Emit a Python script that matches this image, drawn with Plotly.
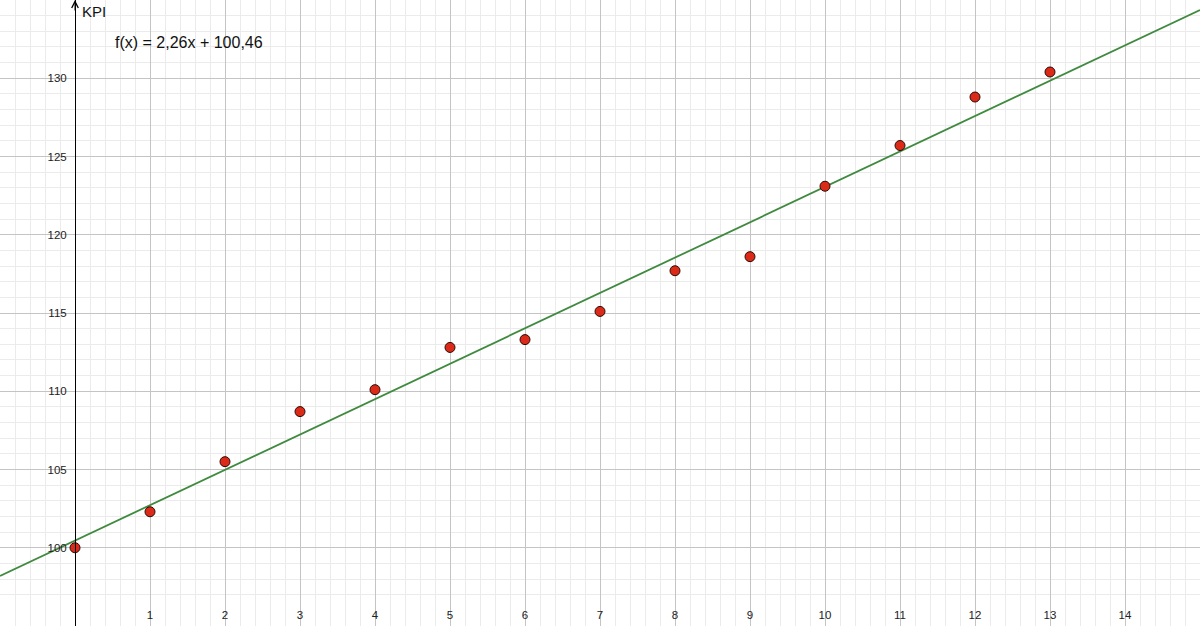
import numpy as np
import plotly.graph_objects as go

# KPI per period
periods = [0, 1, 2, 3, 4, 5, 6, 7, 8, 9, 10, 11, 12, 13]
kpi = [100.0, 102.3, 105.5, 108.7, 110.1, 112.8, 113.3, 115.1,
       117.7, 118.6, 123.1, 125.7, 128.8, 130.4]

# regression line shown in the chart
slope = 2.26
intercept = 100.46
fit_label = "f(x) = 2,26x + 100,46"

x_ticks = list(range(1, 15))
y_ticks = [100, 105, 110, 115, 120, 125, 130]

x_range = [-1, 15]
y_range = [95, 135]

font = "Liberation Sans, Arial, sans-serif"

fig = go.Figure()

# fitted line across the whole view
line_x = np.array(x_range, dtype=float)
fig.add_trace(go.Scatter(
    x=line_x, y=slope * line_x + intercept,
    mode="lines",
    line=dict(color="#3f8a3f", width=1.8),
    hoverinfo="skip",
    showlegend=False
))

# data points
fig.add_trace(go.Scatter(
    x=periods, y=kpi,
    mode="markers",
    marker=dict(size=10, color="#dc2a18", line=dict(color="#2a0a05", width=1)),
    showlegend=False
))

fig.update_layout(
    width=1200, height=626,
    margin=dict(l=0, r=0, t=0, b=0),
    paper_bgcolor="white",
    plot_bgcolor="white",
    font=dict(family=font, color="#222222"),
    xaxis=dict(
        range=x_range,
        tickvals=x_ticks,
        ticks="",
        ticklabelposition="inside",
        ticklabelstandoff=2,
        tickfont=dict(size=11.5, color="#222222"),
        showgrid=True, gridcolor="#c4c4c4", gridwidth=1,
        zeroline=False, showline=False,
        minor=dict(tickmode="linear", tick0=0, dtick=0.2,
                   showgrid=True, gridcolor="#ebebeb", gridwidth=1),
    ),
    yaxis=dict(
        range=y_range,
        tickvals=y_ticks,
        anchor="free",
        position=(0 - x_range[0]) / (x_range[1] - x_range[0]),
        ticks="",
        ticklabelstandoff=6,
        tickfont=dict(size=11.5, color="#222222"),
        showgrid=True, gridcolor="#c4c4c4", gridwidth=1,
        zeroline=False,
        showline=True, linecolor="#000000", linewidth=1,
        minor=dict(tickmode="linear", tick0=0, dtick=1,
                   showgrid=True, gridcolor="#ebebeb", gridwidth=1),
    ),
)

# arrow at top of the vertical axis and its title
fig.add_annotation(
    x=0, y=y_range[1], xref="x", yref="y",
    ax=0, ay=12, text="",
    showarrow=True, arrowhead=5, arrowsize=1.3, arrowwidth=1,
    arrowcolor="#000000"
)
fig.add_annotation(
    x=0.07, y=134.25, xref="x", yref="y",
    text="KPI", showarrow=False, xanchor="left", yanchor="middle",
    font=dict(size=15, color="#111111", family=font)
)

# equation label
fig.add_annotation(
    x=0.5, y=132.3, xref="x", yref="y",
    text=fit_label, showarrow=False, xanchor="left", yanchor="middle",
    font=dict(size=16, color="#111111", family=font)
)

fig.write_html("out.html", config={"displayModeBar": False},
               post_script="document.body.style.margin='0';")
